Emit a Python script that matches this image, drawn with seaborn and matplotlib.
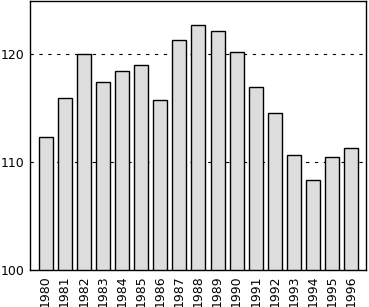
import matplotlib
matplotlib.use("Agg")
import matplotlib.pyplot as plt
import seaborn as sns
import pandas as pd
from matplotlib.ticker import MultipleLocator

years = [str(y) for y in range(1980, 1997)]
values = [112.3, 115.9, 120.0, 117.4, 118.4, 119.0, 115.7, 121.3, 122.7,
          122.1, 120.2, 116.9, 114.5, 110.6, 108.3, 110.5, 111.3]

df = pd.DataFrame({"year": years, "value": values})

sns.set_style("white")
plt.rcParams['font.family'] = ['DejaVu Sans']

fig = plt.figure(figsize=(3.69, 3.07), dpi=100)
ax = fig.add_axes([29.5/369, 1 - 270/307, (366 - 29.5)/369, 269/307])

sns.barplot(data=df, x="year", y="value", color="#dddddd", saturation=1,
            edgecolor="black", linewidth=1, width=0.73, ax=ax, zorder=2)

ax.set_ylim(100, 124.9)
ax.set_xlim(-0.84, 16.77)
ax.yaxis.set_major_locator(MultipleLocator(10))
ax.yaxis.set_minor_locator(MultipleLocator(5))
ax.grid(False)
for yv in [110, 120]:
    ax.axhline(yv, color="black", linewidth=0.8, linestyle=(0, (3, 5)), zorder=1)

ax.tick_params(axis="y", which="major", direction="in", length=4, width=0.8,
               labelsize=9.0, colors="black", pad=3.5)
ax.tick_params(axis="y", which="minor", direction="in", length=4, width=0.8)
ax.tick_params(axis="x", length=0, labelsize=9.0, labelrotation=90, pad=4,
               colors="black")
ax.set_xlabel("")
ax.set_ylabel("")
for s in ax.spines.values():
    s.set_visible(True)
    s.set_color("black")
    s.set_linewidth(1)

fig.savefig("out.png", dpi=100)
